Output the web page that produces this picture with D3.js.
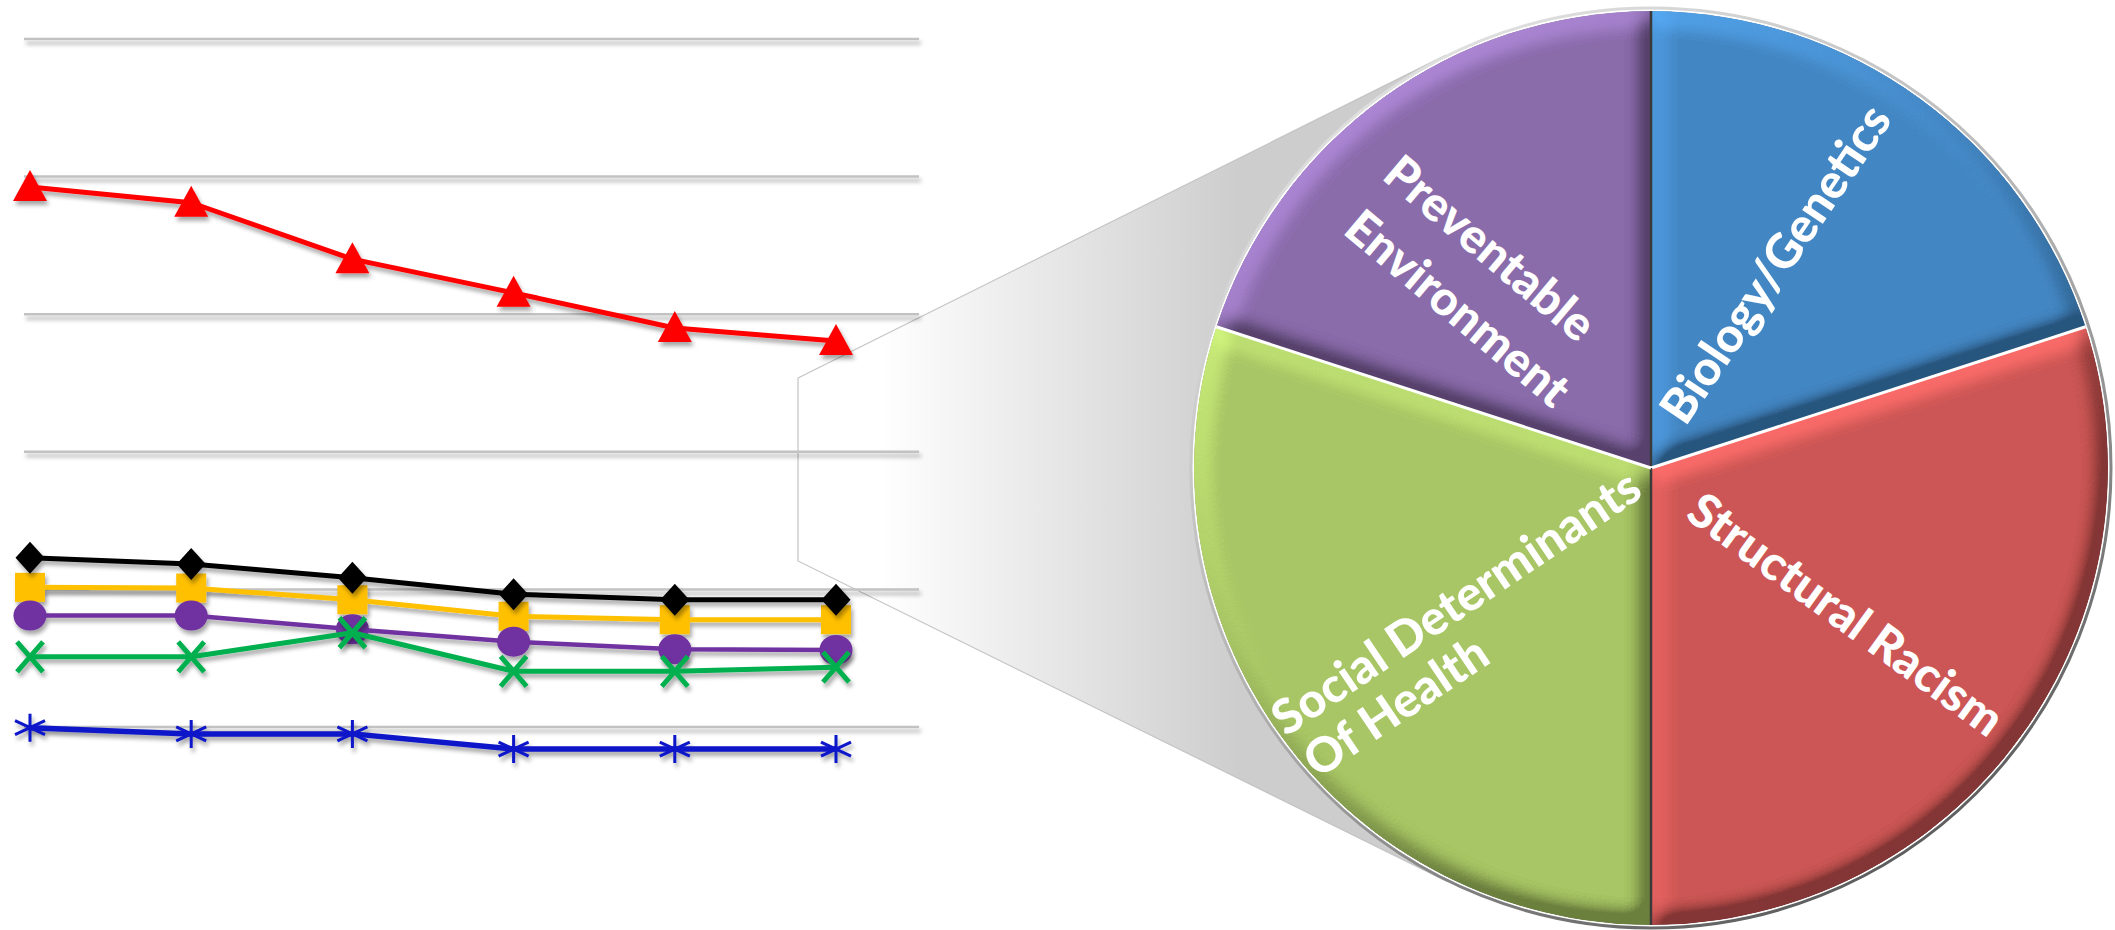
<!DOCTYPE html>
<html><head><meta charset="utf-8">
<script src="https://cdn.jsdelivr.net/npm/d3@7"></script>
<style>html,body{margin:0;padding:0;background:#fff;overflow:hidden}svg{display:block}</style>
</head><body>
<svg id="chart" width="2115" height="930"></svg>
<script>
// ---------- data ----------
const categories = ["1", "2", "3", "4", "5", "6"];
const tickValues = [4, 6, 8, 10, 12, 14];
const redValues    = [11.85, 11.62, 10.80, 10.31, 9.80, 9.61];
const blackValues  = [6.46, 6.37, 6.17, 5.93, 5.85, 5.85];
const yellowValues = [6.03, 6.02, 5.85, 5.61, 5.56, 5.56];
const purpleValues = [5.62, 5.62, 5.42, 5.24, 5.13, 5.12];
const greenValues  = [5.02, 5.02, 5.37, 4.81, 4.81, 4.87];
const blueValues   = [3.99, 3.90, 3.90, 3.68, 3.68, 3.68];
const pieLabels = ["Biology/Genetics", "Structural Racism", "Social Determinants|Of Health", "Preventable|Environment"];
const pieValues = [20, 30, 30, 20];

// ---------- styles / layout ----------
const seriesStyle = [
  {values: yellowValues, color: "#FFC000", width: 5, marker: "square"},
  {values: blackValues,  color: "#000000", width: 5, marker: "diamond"},
  {values: purpleValues, color: "#7030A0", width: 4.5, marker: "circle"},
  {values: greenValues,  color: "#00B050", width: 5, marker: "x"},
  {values: redValues,    color: "#FF0000", width: 5, marker: "triangle"},
  {values: blueValues,   color: "#0A14C8", width: 5.5, marker: "asterisk"}
];
const sliceColors = ["#4387C4", "#CC5654", "#A8C664", "#8A6BAB"];
const labelLayout = [
  {lines: [{dx: 123, dy: -205}], rot: -56},
  {lines: [{dx: 196, dy: 145}], rot: 36},
  {lines: [{dx: -196, dy: 133}, {dx: -256, dy: 237}], rot: -34},
  {lines: [{dx: -160, dy: -221}, {dx: -192, dy: -161}], rot: 40}
];

const svg = d3.select("#chart");
const defs = svg.append("defs");

// drop shadow for line chart
const sh = defs.append("filter").attr("id", "shadow").attr("x", "-20%").attr("y", "-20%").attr("width", "140%").attr("height", "160%");
sh.append("feDropShadow").attr("dx", 2).attr("dy", 4).attr("stdDeviation", 2.2).attr("flood-color", "#000").attr("flood-opacity", 0.35);

// bevel filter
const elev = 30;
const bv = defs.append("filter").attr("id", "bevel").attr("x", "-3%").attr("y", "-3%").attr("width", "106%").attr("height", "106%");
bv.append("feGaussianBlur").attr("in", "SourceAlpha").attr("stdDeviation", 10.5).attr("result", "b");
const dl = bv.append("feDiffuseLighting").attr("in", "b").attr("surfaceScale", 15).attr("diffuseConstant", 1).attr("lighting-color", "#fff").attr("result", "l");
dl.append("feDistantLight").attr("azimuth", 235).attr("elevation", elev);
bv.append("feComposite").attr("in", "SourceGraphic").attr("in2", "l").attr("operator", "arithmetic")
  .attr("k1", 0.62 / Math.sin(elev * Math.PI / 180)).attr("k2", 0.38).attr("k3", 0).attr("k4", 0).attr("result", "lit");
bv.append("feComposite").attr("in", "lit").attr("in2", "SourceAlpha").attr("operator", "in");

// callout gradient
const cg = defs.append("linearGradient").attr("id", "callGrad").attr("gradientUnits", "userSpaceOnUse")
  .attr("x1", 880).attr("y1", 0).attr("x2", 1240).attr("y2", 0);
cg.append("stop").attr("offset", 0).attr("stop-color", "#ffffff");
cg.append("stop").attr("offset", 1).attr("stop-color", "#cdcdcd");

// ring gradient
const rg = defs.append("linearGradient").attr("id", "ringGrad").attr("x1", 0.2).attr("y1", 0).attr("x2", 0.8).attr("y2", 1);
rg.append("stop").attr("offset", 0).attr("stop-color", "#e6e6e6");
rg.append("stop").attr("offset", 0.5).attr("stop-color", "#b0b0b0");
rg.append("stop").attr("offset", 1).attr("stop-color", "#505050");

// ---------- pie geometry ----------
const C = {x: 1651, y: 468};
const R = 457;

// ---------- callout (zoom shape) ----------
const cTop = {x: 798, y: 378}, cBot = {x: 798, y: 561};
function tangent(P, up) {
  const dx = P.x - C.x, dy = P.y - C.y, d = Math.hypot(dx, dy);
  const th = Math.atan2(dy, dx), a = Math.acos((R + 4) / d);
  const t1 = {x: C.x + (R + 4) * Math.cos(th + a), y: C.y + (R + 4) * Math.sin(th + a)};
  const t2 = {x: C.x + (R + 4) * Math.cos(th - a), y: C.y + (R + 4) * Math.sin(th - a)};
  return up ? (t1.y < t2.y ? t1 : t2) : (t1.y > t2.y ? t1 : t2);
}
const tT = tangent(cTop, true), tB = tangent(cBot, false);
svg.append("path")
  .attr("d", `M${cTop.x},${cTop.y}L${tT.x},${tT.y}L${C.x},${C.y}L${tB.x},${tB.y}L${cBot.x},${cBot.y}Z`)
  .attr("fill", "url(#callGrad)").attr("stroke", "#c4c4c4").attr("stroke-width", 1.2);

// ---------- line chart ----------
const x = d3.scalePoint().domain(categories).range([30, 836]);
const y = d3.scaleLinear().domain([4, 14]).range([727, 39]);

const grid = svg.append("g").attr("filter", "url(#shadow)");
grid.selectAll("line").data(tickValues).join("line")
  .attr("x1", 24).attr("x2", 919)
  .attr("y1", d => y(d)).attr("y2", d => y(d))
  .attr("stroke", "#c2c2c2").attr("stroke-width", 2.5);

const line = d3.line().x((d, i) => x(categories[i])).y(d => y(d));

function markerPath(type) {
  switch (type) {
    case "triangle": return "M0,-17L17,14L-17,14Z";
    case "diamond": return "M0,-16L14.5,0L0,16L-14.5,0Z";
    case "square": return "M-15,-14.5H15V14.5H-15Z";
    case "circle": return "M-16.5,0A16.5,15 0 1,0 16.5,0A16.5,15 0 1,0 -16.5,0Z";
    case "x": return "M-13,-15L13,15M13,-15L-13,15";
    case "asterisk": return "M0,-14V14M-15,-7L15,7M15,-7L-15,7";
  }
}

seriesStyle.forEach(s => {
  const g = svg.append("g").attr("filter", "url(#shadow)");
  g.append("path").datum(s.values).attr("d", line)
    .attr("fill", "none").attr("stroke", s.color).attr("stroke-width", s.width).attr("stroke-linejoin", "round");
  const stroke = (s.marker === "x" || s.marker === "asterisk");
  g.selectAll("path.m").data(s.values).join("path").attr("class", "m")
    .attr("transform", (d, i) => `translate(${x(categories[i])},${y(d)})`)
    .attr("d", markerPath(s.marker))
    .attr("fill", stroke ? "none" : s.color)
    .attr("stroke", stroke ? s.color : "none")
    .attr("stroke-width", s.marker === "x" ? 5 : 3);
});

// ---------- pie ----------
const pieG = svg.append("g").attr("transform", `translate(${C.x},${C.y})`);
pieG.append("circle").attr("r", R + 3).attr("fill", "#fff").attr("stroke", "url(#ringGrad)").attr("stroke-width", 3);
const arcs = d3.pie().sort(null)(pieValues);
const arc = d3.arc().innerRadius(0).outerRadius(R);
pieG.selectAll("path.slice").data(arcs).join("path").attr("class", "slice")
  .attr("d", arc)
  .attr("fill", (d, i) => sliceColors[i])
  .attr("filter", "url(#bevel)");

// separators: vertical ones dark, slanted ones white
pieG.selectAll("line.sep").data(arcs).join("line").attr("class", "sep")
  .attr("x1", 0).attr("y1", 0)
  .attr("x2", d => R * Math.sin(d.startAngle)).attr("y2", d => -R * Math.cos(d.startAngle))
  .attr("stroke", d => Math.abs(Math.sin(d.startAngle)) < 0.01 ? "#3a3a3a" : "#ffffff")
  .attr("stroke-width", d => Math.abs(Math.sin(d.startAngle)) < 0.01 ? 2.5 : 3);

// labels
pieLabels.forEach((lab, i) => {
  const L = labelLayout[i];
  lab.split("|").forEach((t, j) => {
    pieG.append("text")
      .attr("transform", `translate(${L.lines[j].dx},${L.lines[j].dy}) rotate(${L.rot})`)
      .attr("text-anchor", "middle").attr("dominant-baseline", "central")
      .attr("font-family", "Lato, 'Open Sans', sans-serif").attr("font-weight", 900)
      .attr("font-size", 48).attr("fill", "#fff")
      .text(t);
  });
});
</script>
</body></html>
